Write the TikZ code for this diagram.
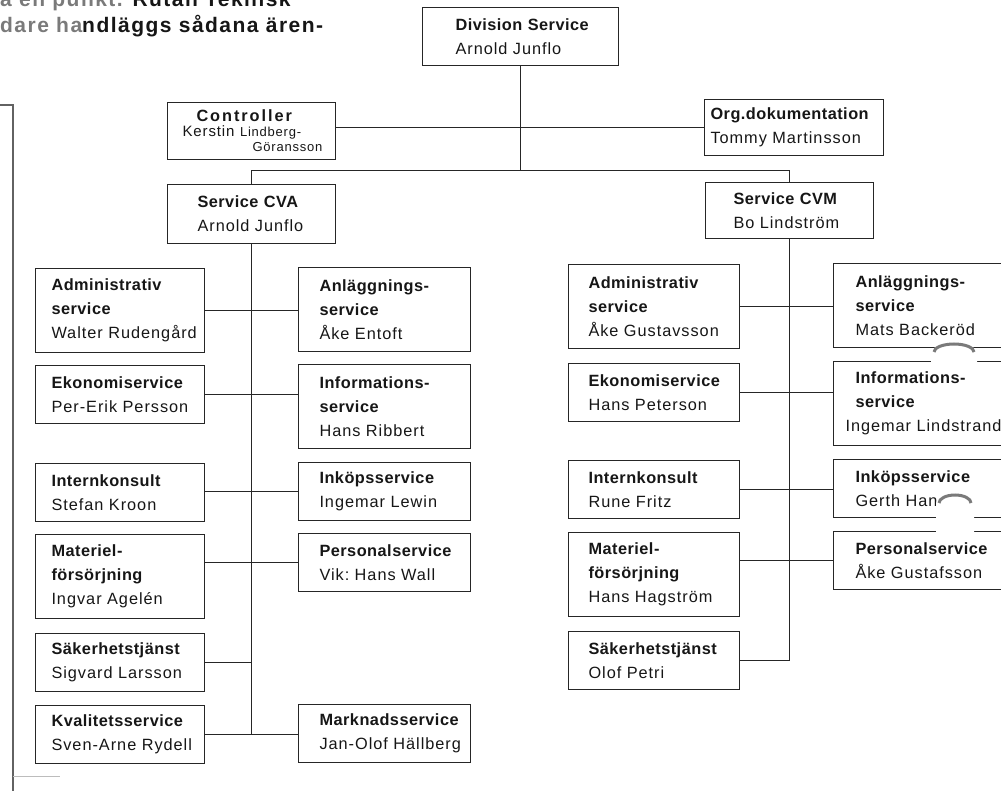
\documentclass[tikz,border=0pt]{standalone}
\usepackage{fontspec}
\setmainfont{Liberation Sans}
\newfontfamily\unitfamily[LetterSpace=6]{Liberation Sans}
\newfontfamily\titlefamily[LetterSpace=3]{Liberation Sans}
\newfontfamily\widetitlefamily[LetterSpace=12]{Liberation Sans}
\newfontfamily\pagefamily[LetterSpace=7]{Liberation Sans}
\newcommand{\unitfont}{\fontsize{16.3}{24}\selectfont\unitfamily}
\newcommand{\smallunitfont}{\fontsize{13}{15}\selectfont\unitfamily}
\newcommand{\unittitle}[1]{{\titlefamily\bfseries #1}}
\exhyphenpenalty=10000
\hyphenpenalty=10000

\begin{document}
\begin{tikzpicture}[x=1pt, y=-1pt,
    unit/.style={draw=borderColour, line width=1pt, anchor=north west, align=left,
        inner ysep=0pt, font=\unitfont, text=textColour},
    tworow/.style={minimum height=58pt},
    threerow/.style={minimum height=84pt},
    colA/.style={unit, inner xsep=16pt, text width=137pt},
    colB/.style={unit, inner xsep=21pt, text width=130pt},
    colC/.style={unit, inner xsep=20pt, text width=131pt},
    colD/.style={unit, inner xsep=22pt, text width=160pt},
    link/.style={draw=borderColour, line width=0.8pt},
    pagetext/.style={anchor=base west, inner sep=0pt, text=textColour,
        font=\fontsize{21}{24}\selectfont\pagefamily\bfseries}]
    \definecolor{borderColour}{HTML}{262626}
    \definecolor{textColour}{HTML}{161616}
    \definecolor{fadeColour}{HTML}{7A7A7A}

    \def\busY{170}

    \useasboundingbox (0,0) rectangle (1001,791);
    \clip (0,0) rectangle (1001,791);

    % Page text above the chart
    \node[pagetext] (lineA) at (0,7) {{\color{fadeColour}a en punkt.} Rutan Teknisk};
    \node[pagetext] (lineB) at (0,33) {{\color{fadeColour}dare ha}ndläggs sådana ären-};

    % Margin bracket
    \draw[fadeColour!80!black, line width=1.6pt] (0,105) -- (13,105) -- (13,795);
    \draw[fadeColour!50, line width=1pt] (13,776) -- (60,776);

    % Top level
    \node[unit, inner xsep=33pt, text width=130pt, minimum height=58pt] (div) at (422,7)
        {\unittitle{Division~Service}\\ Arnold~Junflo};
    \node[unit, inner xsep=15pt, text width=138pt, minimum height=57pt] (ctrl) at (167,102)
        {\hspace*{14pt}{\widetitlefamily\bfseries Controller}\\[-9pt]
         {\fontsize{15}{24}\selectfont Kerstin}\ {\smallunitfont Lindberg-}\\[-9pt]
         \hspace*{70pt}{\smallunitfont Göransson}};
    \node[unit, inner xsep=6pt, text width=167pt, minimum height=56pt] (org) at (704,99)
        {\unittitle{Org.dokumentation}\\ Tommy~Martinsson};
    \node[unit, inner xsep=30pt, text width=108pt, minimum height=59pt] (cva) at (167,184)
        {\unittitle{Service~CVA}\\ Arnold~Junflo};
    \node[unit, inner xsep=28pt, text width=112pt, minimum height=56pt] (cvm) at (705,182)
        {\unittitle{Service~CVM}\\ Bo~Lindström};

    % Service CVA units
    \node[colA, threerow] (admA) at (35,268) {\unittitle{Administrativ}\\ \unittitle{service}\\ Walter~Rudengård};
    \node[colA, tworow] (ekoA) at (35,365) {\unittitle{Ekonomiservice}\\ Per-Erik~Persson};
    \node[colA, tworow] (intA) at (35,463) {\unittitle{Internkonsult}\\ Stefan~Kroon};
    \node[colA, threerow] (matA) at (35,534) {\unittitle{Materiel-}\\ \unittitle{försörjning}\\ Ingvar~Agelén};
    \node[colA, tworow] (sakA) at (35,633) {\unittitle{Säkerhetstjänst}\\ Sigvard~Larsson};
    \node[colA, tworow] (kvalA) at (35,705) {\unittitle{Kvalitetsservice}\\ Sven-Arne~Rydell};

    \node[colB, threerow] (anlA) at (298,267) {\unittitle{Anläggnings-}\\ \unittitle{service}\\ Åke~Entoft};
    \node[colB, threerow] (infA) at (298,364) {\unittitle{Informations-}\\ \unittitle{service}\\ Hans~Ribbert};
    \node[colB, tworow] (inkA) at (298,462) {\unittitle{Inköpsservice}\\ Ingemar~Lewin};
    \node[colB, tworow] (persA) at (298,533) {\unittitle{Personalservice}\\ Vik:~Hans~Wall};
    \node[colB, tworow] (markA) at (298,704) {\unittitle{Marknadsservice}\\ Jan-Olof~Hällberg};

    % Service CVM units
    \node[colC, threerow] (admC) at (568,264) {\unittitle{Administrativ}\\ \unittitle{service}\\ Åke~Gustavsson};
    \node[colC, tworow] (ekoC) at (568,363) {\unittitle{Ekonomiservice}\\ Hans~Peterson};
    \node[colC, tworow] (intC) at (568,460) {\unittitle{Internkonsult}\\ Rune~Fritz};
    \node[colC, threerow] (matC) at (568,532) {\unittitle{Materiel-}\\ \unittitle{försörjning}\\ Hans~Hagström};
    \node[colC, tworow] (sakC) at (568,631) {\unittitle{Säkerhetstjänst}\\ Olof~Petri};

    \node[colD, threerow] (anlC) at (833,263) {\unittitle{Anläggnings-}\\ \unittitle{service}\\ Mats~Backeröd};
    \node[colD, threerow] (infC) at (833,361) {\unittitle{Informations-}\\ \unittitle{service}\\ \hspace*{-10pt}Ingemar~Lindstrand};
    \node[colD, tworow] (inkC) at (833,459) {\unittitle{Inköpsservice}\\ Gerth~Han};
    \node[colD, tworow] (persC) at (833,531) {\unittitle{Personalservice}\\ Åke~Gustafsson};

    % Top connections
    \coordinate (bus) at (518,\busY);
    \draw[link] (div.south) -- (div.south |- bus);
    \draw[link] (ctrl.east |- org.west) -- (org.west);
    \draw[link] (cva.north) -- (cva.north |- bus) -- (cvm.north |- bus) -- (cvm.north);

    % CVA connections
    \draw[link] (cva.south) -- (cva.south |- kvalA.east);
    \draw[link] (admA.east) -- (anlA.west |- admA.east);
    \draw[link] (ekoA.east) -- (infA.west |- ekoA.east);
    \draw[link] (intA.east |- inkA.west) -- (inkA.west);
    \draw[link] (matA.east |- persA.west) -- (persA.west);
    \draw[link] (sakA.east) -- (cva.south |- sakA.east);
    \draw[link] (kvalA.east) -- (markA.west |- kvalA.east);

    % CVM connections
    \draw[link] (cvm.south) -- (cvm.south |- sakC.east);
    \draw[link] (admC.east) -- (anlC.west |- admC.east);
    \draw[link] (ekoC.east) -- (infC.west |- ekoC.east);
    \draw[link] (intC.east) -- (inkC.west |- intC.east);
    \draw[link] (matC.east |- persC.west) -- (persC.west);
    \draw[link] (sakC.east) -- (cvm.south |- sakC.east);

    % Punch marks on the scan
    \fill[white] (931,352) arc (180:360:23 and 8) -- (977,365) -- (931,365) -- cycle;
    \draw[fadeColour, line width=3pt] (934,352) arc (180:360:20 and 8);
    \fill[white] (936,503) arc (180:360:19 and 8) -- (974,535) -- (936,535) -- cycle;
    \draw[fadeColour, line width=3pt] (939,503) arc (180:360:16 and 8);

\end{tikzpicture}
\end{document}
